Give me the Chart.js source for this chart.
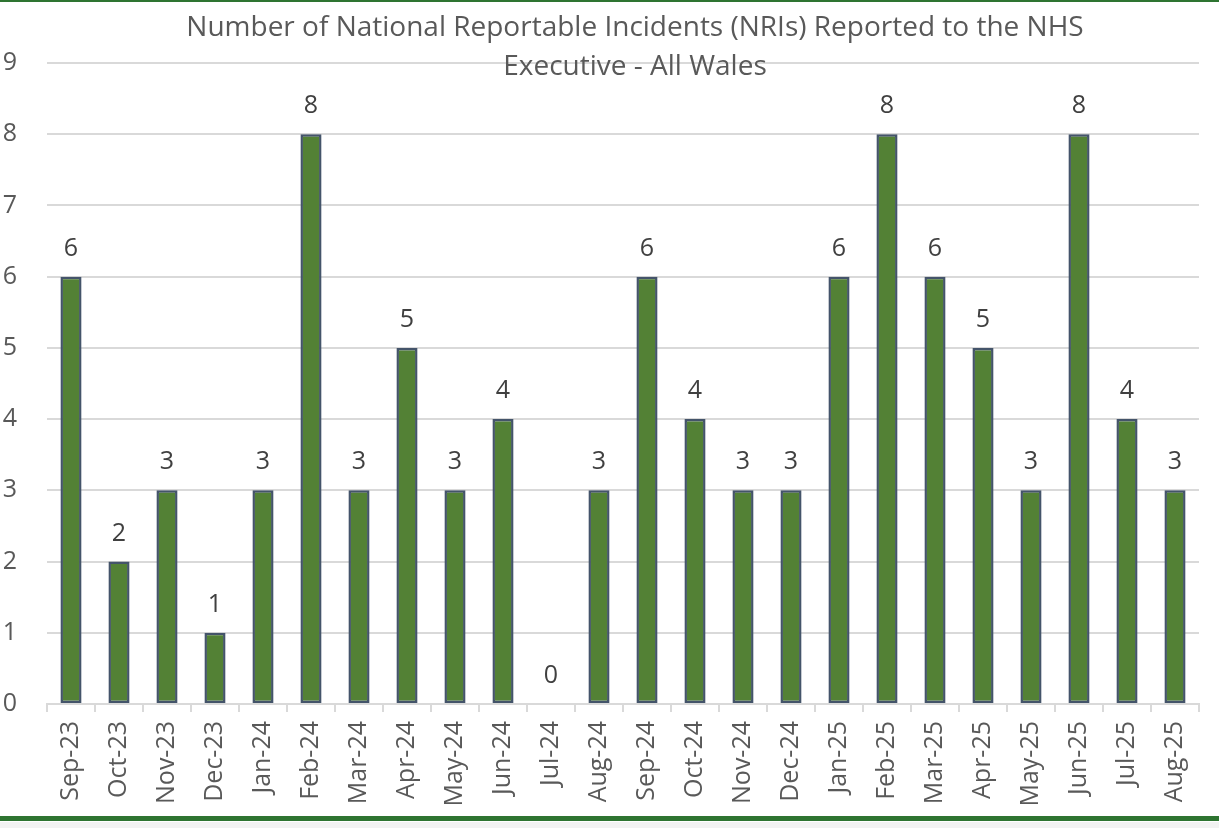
<!DOCTYPE html>
<html><head><meta charset="utf-8">
<script src="https://cdn.jsdelivr.net/npm/chart.js@4"></script>
<style>html,body{margin:0;padding:0;background:#fff;}#wrap{width:1219px;height:828px;position:relative;}</style>
</head><body><div id="wrap"><canvas id="c" width="1219" height="828"></canvas></div>
<script>
const categories = ["Sep-23","Oct-23","Nov-23","Dec-23","Jan-24","Feb-24","Mar-24","Apr-24","May-24","Jun-24","Jul-24","Aug-24","Sep-24","Oct-24","Nov-24","Dec-24","Jan-25","Feb-25","Mar-25","Apr-25","May-25","Jun-25","Jul-25","Aug-25"];
const nriCounts = [6,2,3,1,3,8,3,5,3,4,0,3,6,4,3,3,6,8,6,5,3,8,4,3];
const titleLines = ["Number of National Reportable Incidents (NRIs) Reported to the NHS","Executive - All Wales"];
const FONT = "'Open Sans', 'Segoe UI', sans-serif";

const framePlugin = {
  id: 'frame',
  beforeDraw(chart) {
    const ctx = chart.ctx;
    ctx.save();
    ctx.fillStyle = '#ffffff';
    ctx.fillRect(0,0,chart.width,chart.height);
    ctx.fillStyle = '#f2f2f2';
    ctx.fillRect(0,822,chart.width,chart.height-822);
    ctx.fillStyle = '#2e7431';
    ctx.fillRect(0,0,chart.width,2);
    ctx.fillRect(0,816,chart.width,5);
    ctx.restore();
  },
  afterDraw(chart) {
    const ctx = chart.ctx;
    ctx.save();
    ctx.fillStyle = '#595959';
    ctx.font = "28px " + FONT;
    ctx.textAlign = 'center';
    ctx.textBaseline = 'middle';
    ctx.fillText(titleLines[0], 635, 28);
    ctx.fillText(titleLines[1], 635, 67);
    // data labels
    const meta = chart.getDatasetMeta(0);
    ctx.fillStyle = '#404040';
    ctx.font = "25px " + FONT;
    meta.data.forEach((bar, i) => {
      ctx.fillText(String(nriCounts[i]), bar.x, bar.y - 28);
    });
    ctx.restore();
  }
};

new Chart(document.getElementById('c'), {
  type: 'bar',
  data: {
    labels: categories,
    datasets: [{
      data: nriCounts,
      backgroundColor: '#538135',
      borderColor: '#44546a',
      borderWidth: 2.5,
      borderSkipped: false,
      barPercentage: 0.44,
      categoryPercentage: 1.0
    }]
  },
  options: {
    responsive: false,
    animation: false,
    devicePixelRatio: 1,
    layout: { padding: { top: 63, right: 20, bottom: 0, left: 0 } },
    plugins: { legend: { display: false }, title: { display: false }, tooltip: { enabled: false } },
    scales: {
      x: {
        offset: true,
        grid: { display: true, drawOnChartArea: false, drawTicks: true, tickLength: 8, color: '#d9d9d9', lineWidth: 2, offset: true },
        border: { display: true, color: '#d9d9d9', width: 2 },
        ticks: { color: '#595959', font: { family: FONT, size: 25 }, minRotation: 90, maxRotation: 90, autoSkip: false, padding: 9 },
        afterFit(scale) { scale.height = 124; }
      },
      y: {
        min: 0, max: 9,
        grid: { color: '#d9d9d9', lineWidth: 2, drawTicks: false },
        border: { display: false },
        ticks: { stepSize: 1, color: '#595959', font: { family: FONT, size: 25 }, padding: 30 },
        afterFit(scale) { scale.width = 47; }
      }
    }
  },
  plugins: [framePlugin]
});
</script></body></html>
